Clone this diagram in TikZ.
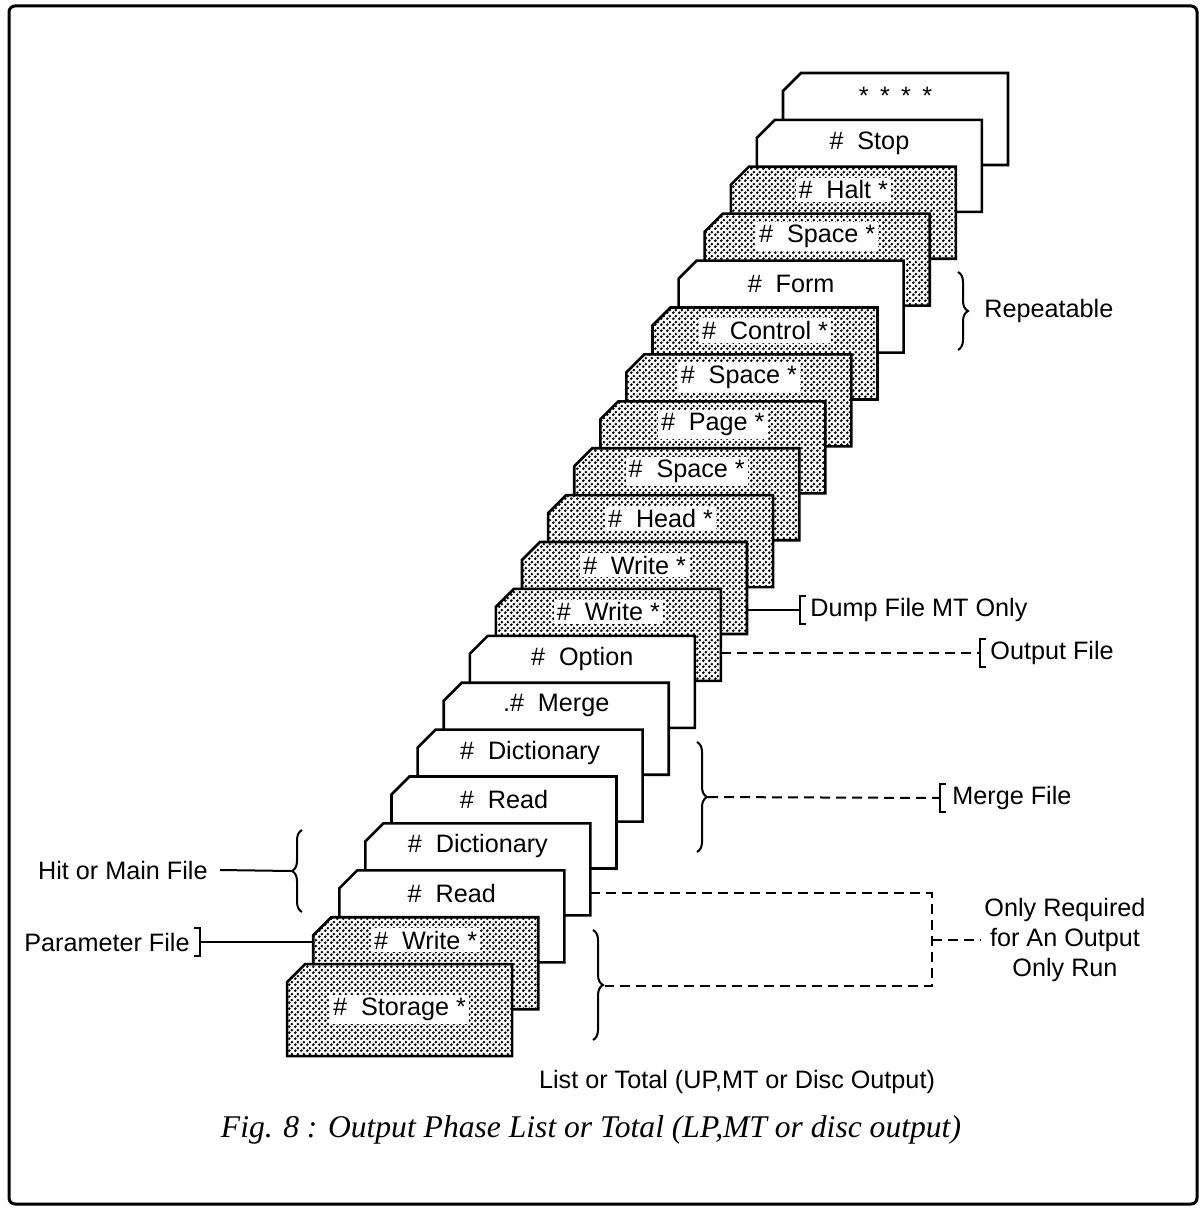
\documentclass[tikz,border=0pt]{standalone}
\usepackage{fontspec}
\setmainfont{Liberation Sans}
\newfontfamily\capfont{Liberation Serif}
\usetikzlibrary{patterns,decorations.pathreplacing}

\pgfdeclarepatternformonly{halftone}{\pgfpointorigin}{\pgfqpoint{3pt}{3pt}}{\pgfqpoint{3pt}{3pt}}{%
  \pgfpathcircle{\pgfqpoint{0.75pt}{0.75pt}}{0.85pt}%
  \pgfpathcircle{\pgfqpoint{2.25pt}{2.25pt}}{0.85pt}%
  \pgfusepath{fill}}

\tikzset{
  card/.style={line width=1.3pt, fill=white},
  plaincard/.style={},
  dotcard/.style={preaction={fill=white}, pattern=halftone},
  cardtext/.style={fill=white, inner sep=1.5pt, font=\fontsize{12.6}{15}\selectfont},
  note/.style={inner sep=0pt, font=\fontsize{12.6}{15}\selectfont},
  link/.style={line width=1pt},
  dashlink/.style={line width=1pt, dash pattern=on 5pt off 3pt},
  grouping/.style={line width=1pt, decorate, decoration={brace, amplitude=5pt}},
}
\newcommand{\gap}{\hspace{0.55em}}

\begin{document}
\begin{tikzpicture}[x=0.5pt,y=-0.5pt]
  \useasboundingbox (0,0) rectangle (1200,1208);
  \draw[line width=1.5pt, rounded corners=3pt] (9,6) rectangle (1197,1204);
  % the deck, back card first
  \foreach \txt/\sty/\dy [count=\i from 0] in {%
      {*\hspace{0.45em}*\hspace{0.45em}*\hspace{0.45em}*}/plaincard/23,
      {\#\gap Stop}/plaincard/23, {\#\gap Halt *}/dotcard/23,
      {\#\gap Space *}/dotcard/23, {\#\gap Form}/plaincard/23,
      {\#\gap Control *}/dotcard/23, {\#\gap Space *}/dotcard/23,
      {\#\gap Page *}/dotcard/23, {\#\gap Space *}/dotcard/23,
      {\#\gap Head *}/dotcard/23, {\#\gap Write *}/dotcard/23,
      {\#\gap Write *}/dotcard/23, {\#\gap Option}/plaincard/23,
      {.\#\gap Merge}/plaincard/23, {\#\gap Dictionary}/plaincard/23,
      {\#\gap Read}/plaincard/23, {\#\gap Dictionary}/plaincard/23,
      {\#\gap Read}/plaincard/23, {\#\gap Write *}/dotcard/23,
      {\#\gap Storage *}/dotcard/45}
  {
    \pgfmathsetmacro\cardx{783-26.1*\i}
    \pgfmathsetmacro\cardy{73+46.9*\i}
    \coordinate (nw\i) at (\cardx,\cardy);
    \coordinate (ne\i) at (\cardx+225,\cardy);
    \draw[card,\sty] (\cardx,\cardy+18) -- (\cardx+18,\cardy) -- (\cardx+225,\cardy)
      -- (\cardx+225,\cardy+92) -- (\cardx,\cardy+92) -- cycle;
    \node[cardtext] (lab\i) at (\cardx+112.5,\cardy+\dy) {\txt};
  }

  % right side notes
  \draw[grouping] (958,272) -- (958,350);
  \node[note, anchor=west] (repeat) at (984,311) {Repeatable};

  \node[note, anchor=west] (dump) at (810,610) {Dump File MT Only};
  \draw[link] (ne10 |- dump.west) -- ([xshift=-5pt]dump.west);
  \draw[link] (dump.west) ++(-4,-14) -- ++(-6,0) -- ++(0,28) -- ++(6,0);

  \node[note, anchor=west] (outfile) at (990,653) {Output File};
  \draw[dashlink] (ne11 |- outfile.west) -- ([xshift=-5pt]outfile.west);
  \draw[link] (outfile.west) ++(-4,-14) -- ++(-6,0) -- ++(0,28) -- ++(6,0);

  \draw[grouping] (697,742) -- (697,852);
  \coordinate (mergetip) at (708,797);
  \node[note, anchor=west] (mergefile) at (952,798) {Merge File};
  \draw[dashlink] (mergetip) -- ([xshift=-6pt]mergefile.west);
  \draw[link] (mergefile.west) ++(-6,-14) -- ++(-6,0) -- ++(0,28) -- ++(6,0);

  \draw[grouping] (593,930) -- (593,1040);
  \coordinate (lowtip) at (605,986);
  \coordinate (bend) at (932,940);
  \node[note, align=center] (onlyreq) at (1065,940) {Only Required\\for An Output\\Only Run};
  \draw[dashlink] (ne16 |- lab17) -- (bend |- lab17) -- (bend |- lowtip) -- (lowtip);
  \draw[dashlink] (bend) -- ([xshift=-2pt]onlyreq.west);

  % left side notes
  \node[note, anchor=east] (hitmain) at (208,870) {Hit or Main File};
  \draw[grouping] (302,912) -- (302,830);
  \coordinate (hittip) at (291,871);
  \draw[link] ([xshift=6pt]hitmain.east) -- (hittip);

  \node[note, anchor=east] (param) at (190,942) {Parameter File};
  \draw[link] (param.east) ++(4,-14) -- ++(6,0) -- ++(0,28) -- ++(-6,0);
  \draw[link] ([xshift=5pt]param.east) -- (nw18 |- param.east);

  \node[note] (listtotal) at (737,1082) {List or Total (UP,MT or Disc Output)};
  \node[font=\capfont\itshape\fontsize{15.8}{18}\selectfont] (caption) at (591,1130)
    {Fig. 8 : Output Phase List or Total (LP,MT or disc output)};
\end{tikzpicture}
\end{document}
